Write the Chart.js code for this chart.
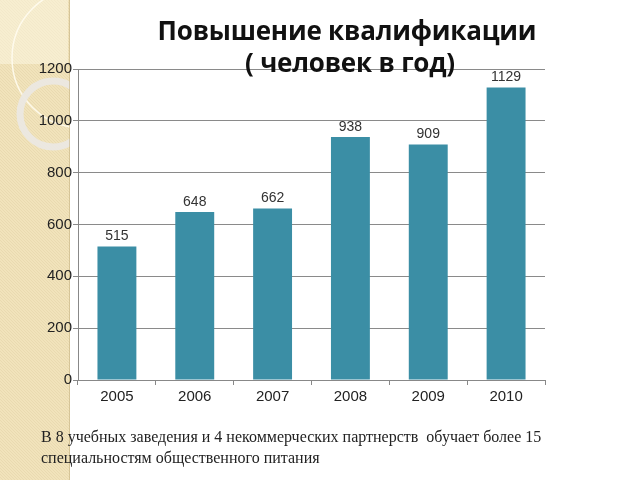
<!DOCTYPE html>
<html><head><meta charset="utf-8">
<script src="https://cdn.jsdelivr.net/npm/chart.js@4"></script>
<style>
html,body{margin:0;padding:0;background:#fff;}
#wrap{position:relative;width:640px;height:480px;overflow:hidden;}
#c{position:absolute;left:0;top:0;}
.t{position:absolute;white-space:nowrap;color:#111;}
#title1{left:0;width:694px;top:12px;text-align:center;font:700 26px "Open Sans",sans-serif;letter-spacing:-0.2px;}
#title2{left:0;width:700px;top:44px;text-align:center;font:700 26px "Open Sans",sans-serif;letter-spacing:-0.2px;}
#note{left:41px;top:426px;font:16px "Liberation Serif","Times New Roman",serif;line-height:21px;color:#222;}
</style></head>
<body><div id="wrap">
<canvas id="c" width="640" height="480"></canvas>
<div class="t" id="title1">Повышение квалификации</div>
<div class="t" id="title2">( человек в год)</div>
<div class="t" id="note">В 8 учебных заведения и 4 некоммерческих партнерств&nbsp; обучает более 15<br>специальностям общественного питания</div>
</div>
<script>
const categories = ["2005","2006","2007","2008","2009","2010"];
const values = [515, 648, 662, 938, 909, 1129];
const yTicks = [0, 200, 400, 600, 800, 1000, 1200];

const bgPlugin = {
  id: 'bg',
  beforeDraw(chart) {
    const ctx = chart.ctx;
    ctx.save();
    ctx.fillStyle = '#f1e3bb';
    ctx.fillRect(0, 0, 70, 480);
    ctx.beginPath(); ctx.rect(0, 0, 70, 480); ctx.clip();
    ctx.strokeStyle = 'rgba(200,180,130,0.18)';
    ctx.lineWidth = 1;
    for (let i = -480; i < 80; i += 3) {
      ctx.beginPath(); ctx.moveTo(i, 0); ctx.lineTo(i + 480, 480); ctx.stroke();
    }
    ctx.fillStyle = 'rgba(255,250,235,0.45)';
    ctx.fillRect(0, 0, 68, 64);
    ctx.strokeStyle = 'rgba(255,252,240,0.9)';
    ctx.lineWidth = 1.5;
    ctx.beginPath(); ctx.arc(82, 58, 70, 0, Math.PI * 2); ctx.stroke();
    ctx.strokeStyle = 'rgba(235,232,225,0.95)';
    ctx.lineWidth = 7;
    ctx.beginPath(); ctx.arc(53, 114, 33, 0, Math.PI * 2); ctx.stroke();
    ctx.restore();
    ctx.save();
    ctx.fillStyle = 'rgba(190,170,120,0.5)';
    ctx.fillRect(69, 0, 1, 480);
    ctx.restore();
  }
};

const labelPlugin = {
  id: 'vals',
  afterDatasetsDraw(chart) {
    const ctx = chart.ctx;
    const meta = chart.getDatasetMeta(0);
    ctx.save();
    ctx.font = '14px "Liberation Sans", Arial, sans-serif';
    ctx.fillStyle = '#333';
    ctx.textAlign = 'center';
    ctx.textBaseline = 'bottom';
    meta.data.forEach((bar, i) => {
      ctx.fillText(String(values[i]), bar.x, bar.y - 3);
    });
    ctx.restore();
  }
};

new Chart(document.getElementById('c'), {
  type: 'bar',
  data: {
    labels: categories,
    datasets: [{
      data: values,
      backgroundColor: '#3b8ea5',
      barPercentage: 0.5,
      categoryPercentage: 1.0
    }]
  },
  options: {
    responsive: false,
    animation: false,
    events: [],
    layout: { padding: { left: 0, top: 69, right: 95, bottom: 0 } },
    plugins: { legend: { display: false }, tooltip: { enabled: false }, title: { display: false } },
    scales: {
      y: {
        min: 0, max: 1200,
        afterFit(s) { s.width = 78; },
        afterBuildTicks(s) { s.ticks = yTicks.map(v => ({ value: v })); },
        border: { display: true, color: '#888', width: 1 },
        grid: { color: '#8a8a8a', lineWidth: 1, tickLength: 5, drawTicks: true },
        ticks: { padding: 1, color: '#222', callback: v => String(v), font: { family: '"Liberation Sans", Arial, sans-serif', size: 15 } }
      },
      x: {
        afterFit(s) { s.height = 100; },
        offset: true,
        border: { display: true, color: '#888', width: 1 },
        grid: { offset: true, display: true, drawOnChartArea: false, tickLength: 5, color: '#888' },
        ticks: { padding: 3, color: '#222', font: { family: '"Liberation Sans", Arial, sans-serif', size: 15 } }
      }
    }
  },
  plugins: [bgPlugin, labelPlugin]
});
</script>
</body></html>
